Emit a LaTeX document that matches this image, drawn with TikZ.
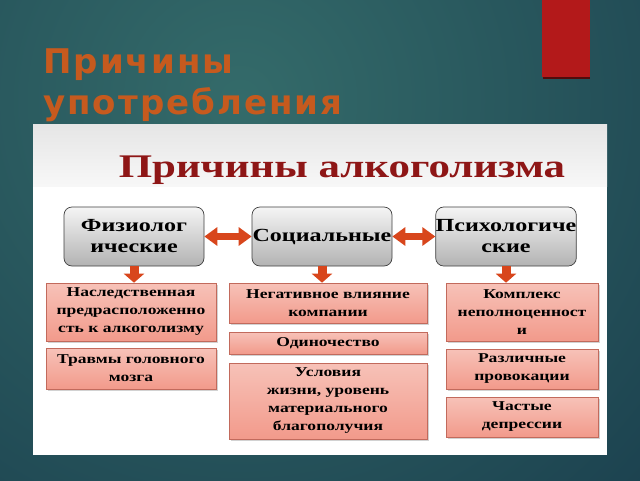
\documentclass[tikz,border=0pt]{standalone}
\usepackage{fontspec}
\setmainfont{Liberation Serif}
\newfontfamily\dgm[FakeStretch=1.3]{Liberation Serif}
\newfontfamily\hdr[LetterSpace=6]{DejaVu Sans}
\usetikzlibrary{arrows.meta,shadows}
\definecolor{bgin}{HTML}{346B6A}
\definecolor{bgout}{HTML}{163849}
\definecolor{redbar}{HTML}{B3191A}
\definecolor{orangeT}{HTML}{C65A1E}
\definecolor{titleRed}{HTML}{8E1616}
\definecolor{arrowC}{HTML}{D8461C}
\definecolor{pinkTop}{HTML}{F7C2B8}
\definecolor{pinkMid}{HTML}{FDE7E2}
\definecolor{pinkBot}{HTML}{F29A8B}
\definecolor{pinkLine}{HTML}{C26A5C}
\begin{document}
\begin{tikzpicture}[x=1pt,y=-1pt,
  topbox/.style={draw=black!75, line width=0.7pt, rounded corners=8pt,
    top color=black!4, bottom color=black!30, minimum width=140pt,
    minimum height=59pt, inner sep=0pt, align=center,
    font=\dgm\bfseries\fontsize{18.5}{21}\selectfont},
  lowbox/.style={draw=pinkLine, line width=0.6pt, top color=pinkTop,
    middle color=pinkMid, bottom color=pinkBot, inner sep=0pt, align=center,
    drop shadow={opacity=0.35, shadow xshift=1.5pt, shadow yshift=-1.5pt},
    font=\dgm\bfseries\fontsize{13.5}{18}\selectfont},
  harrow/.style={draw=arrowC, line width=7pt,
    {Triangle[length=13pt,width=18pt]}-{Triangle[length=13pt,width=18pt]}},
  varrow/.style={draw=arrowC, line width=9pt, -{Triangle[length=9pt,width=20pt]}},
  hdrtext/.style={anchor=base west, inner sep=0pt, text=orangeT,
    font=\hdr\bfseries\fontsize{34}{41}\selectfont}]
\useasboundingbox (0,0) rectangle (640,480);
\begin{scope}
  \clip (0,0) rectangle (640,480);
  \shade[inner color=bgin, outer color=bgout] (240,100) circle (700);
\end{scope}
% red bar
\fill[black!55!redbar] (543,76) rectangle (590,79);
\fill[redbar] (542,0) rectangle (590,77);
% slide title
\node[hdrtext] (h1) at (43,73) {Причины};
\node[hdrtext] (h2) at (43,114) {употребления};
% white panel
\fill[white] (33,124) rectangle (607,455);
\shade[top color=black!10, bottom color=black!3] (33,124) rectangle (607,186);
% panel title
\node[anchor=base, inner sep=0pt, text=titleRed,
  font=\dgm\bfseries\fontsize{33}{36}\selectfont] (ptitle) at (342,177) {Причины алкоголизма};
% top row
\node[topbox] (fiz) at (134,236.5) {Физиолог\\ические};
\node[topbox] (soc) at (322,236.5) {Социальные};
\node[topbox] (psy) at (506,236.5) {Психологиче\\ские};
% lower boxes
\node[lowbox, minimum width=170pt, minimum height=58pt] (l1) at (131,312) {Наследственная\\предрасположенно\\сть к алкоголизму};
\node[lowbox, minimum width=170pt, minimum height=41pt] (l2) at (131,368.5) {Травмы головного\\мозга};
\node[lowbox, minimum width=198pt, minimum height=40pt] (m1) at (328,303) {Негативное влияние\\компании};
\node[lowbox, minimum width=198pt, minimum height=22pt] (m2) at (328,343) {Одиночество};
\node[lowbox, minimum width=198pt, minimum height=76pt] (m3) at (328,401) {Условия\\жизни, уровень\\материального\\благополучия};
\node[lowbox, minimum width=152pt, minimum height=58pt] (r1) at (522,312) {Комплекс\\неполноценност\\и};
\node[lowbox, minimum width=152pt, minimum height=40pt] (r2) at (522,369) {Различные\\провокации};
\node[lowbox, minimum width=152pt, minimum height=40pt] (r3) at (522,417) {Частые\\депрессии};
% arrows
\draw[harrow] (fiz) -- (soc);
\draw[harrow] (soc) -- (psy);
\draw[varrow] (fiz.south) -- (fiz.south |- l1.north);
\draw[varrow] (soc.south) -- (soc.south |- m1.north);
\draw[varrow] (psy.south) -- (psy.south |- r1.north);
\end{tikzpicture}
\end{document}
